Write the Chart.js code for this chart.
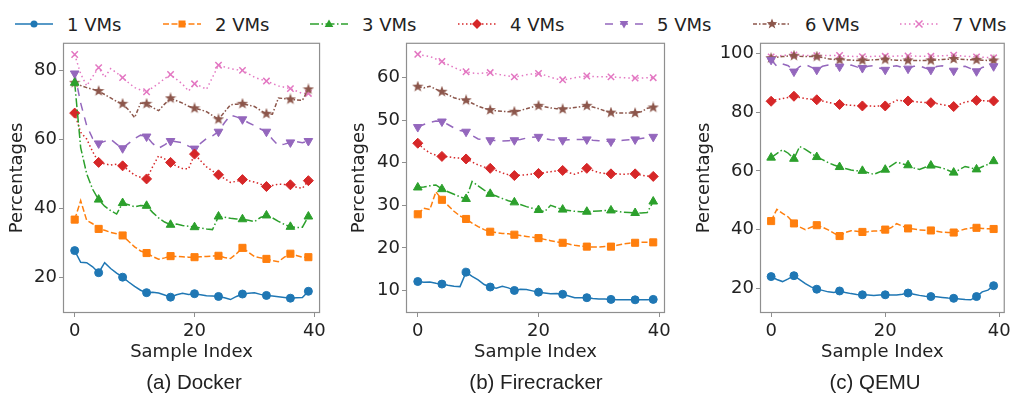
<!DOCTYPE html>
<html>
<head>
<meta charset="utf-8">
<script src="https://cdn.jsdelivr.net/npm/chart.js@4.4.0/dist/chart.umd.min.js"></script>
<style>
  body { margin:0; background:#fff; width:1015px; height:399px; overflow:hidden; position:relative; font-family:"DejaVu Sans", sans-serif; color:#222; }
  .panel { position:absolute; top:30px; height:369px; }
  .caption { position:absolute; top:370px; font-family:"Liberation Sans", Arial, sans-serif; font-size:20.5px; color:#222; transform:translateX(-50%); white-space:nowrap; }
  .item { position:absolute; top:12px; height:24px; display:flex; align-items:center; font-size:18px; white-space:nowrap; }
  .item svg { margin-right:14px; }
</style>
</head>
<body>
<div id="legend"></div>
<div class="panel" id="wrap-docker" style="left:0;width:330px"><canvas id="chart-docker"></canvas></div>
<div class="panel" id="wrap-fc" style="left:340px;width:335px"><canvas id="chart-fc"></canvas></div>
<div class="panel" id="wrap-qemu" style="left:685px;width:330px"><canvas id="chart-qemu"></canvas></div>
<div class="caption" style="left:194px">(a) Docker</div>
<div class="caption" style="left:536px">(b) Firecracker</div>
<div class="caption" style="left:875px">(c) QEMU</div>

<script>
/* Percentages per sample, 1..7 concurrent VMs */
const sampleIndex = [0,1,2,3,4,5,6,7,8,9,10,11,12,13,14,15,16,17,18,19,20,21,22,23,24,25,26,27,28,29,30,31,32,33,34,35,36,37,38,39];
const seriesNames = ['1 VMs','2 VMs','3 VMs','4 VMs','5 VMs','6 VMs','7 VMs'];
const xTicks = [0, 20, 40];

// (a) Docker
const dockerVm1 = [27.7,24.3,24.2,23.0,21.3,24.2,22.5,21.2,20.0,18.6,17.3,16.2,15.5,15.6,15.4,14.8,14.2,14.9,15.3,15.0,15.2,14.9,14.6,14.5,14.4,14.0,13.5,14.4,15.1,15.3,15.5,15.0,14.7,14.5,14.3,14.1,13.9,14.0,14.1,15.9];
const dockerVm2 = [36.7,42.2,36.5,35.5,34.0,33.6,33.0,32.6,32.1,30.4,28.8,27.6,27.0,26.0,25.2,25.6,26.1,26.0,25.9,25.8,25.8,25.9,26.0,26.1,26.2,25.7,25.4,26.8,28.5,27.2,26.0,25.6,25.3,24.8,24.5,25.8,26.8,26.3,25.8,25.8];
const dockerVm3 = [76.4,57.6,50.0,45.5,42.5,40.6,39.3,38.3,41.5,41.0,40.4,40.8,40.7,38.8,37.2,36.0,35.2,35.4,35.0,34.8,34.5,34.3,34.0,33.8,37.6,37.4,37.1,36.9,36.8,36.5,36.1,37.3,37.9,37.2,36.2,35.3,34.6,34.4,34.5,37.6];
const dockerVm4 = [67.6,62.0,60.1,56.4,53.3,52.9,52.5,52.8,52.3,51.0,49.6,49.0,48.5,52.0,55.2,54.3,53.3,52.2,51.5,51.4,55.7,53.8,52.0,50.8,49.7,48.6,47.5,47.8,48.3,48.0,47.6,47.0,46.3,46.6,47.0,46.9,46.8,46.1,45.8,48.0];
const dockerVm5 = [79.1,70.5,64.0,60.2,58.8,59.4,60.0,58.6,57.4,58.8,60.2,61.2,60.8,58.8,57.4,58.4,59.5,59.3,59.0,58.0,57.3,58.8,60.2,61.0,62.2,64.8,67.0,66.5,65.8,64.8,64.0,63.0,62.2,60.0,58.2,58.6,59.1,59.3,59.0,59.5];
const dockerVm6 = [76.4,75.6,75.0,74.5,74.0,73.0,72.0,71.0,70.3,68.5,66.3,70.5,70.3,69.2,68.3,70.2,71.9,71.2,70.5,69.6,69.0,68.6,68.0,66.9,65.8,67.9,70.0,70.2,70.3,69.9,69.5,68.4,67.4,67.3,72.0,71.8,71.6,71.4,71.3,74.5];
const dockerVm7 = [84.6,79.0,75.5,78.2,80.8,78.0,80.5,79.3,77.9,76.4,75.0,74.3,73.8,75.0,76.2,77.6,78.8,77.4,76.0,74.0,76.1,75.4,74.5,78.0,81.5,81.0,80.5,80.2,80.0,79.0,78.0,77.4,76.9,76.2,75.5,75.1,74.7,74.0,73.3,73.3];
const dockerTicks = [20, 40, 60, 80];

// (b) Firecracker
const fcVm1 = [12.1,11.9,12.0,11.7,11.5,11.2,11.0,10.9,14.3,13.3,12.5,11.4,10.8,10.5,11.0,10.6,10.0,10.3,10.2,9.9,9.6,9.4,9.2,9.3,9.1,8.7,8.3,8.3,8.3,8.1,8.0,8.0,7.9,7.8,7.8,7.8,7.8,7.8,7.8,7.9];
const fcVm2 = [27.9,29.3,29.0,33.2,31.3,30.0,28.6,27.5,26.8,25.8,25.0,24.3,23.8,23.6,23.4,23.3,23.1,22.9,22.7,22.5,22.3,22.0,21.7,21.4,21.2,20.9,20.6,20.4,20.3,20.2,20.2,20.3,20.3,20.6,20.9,21.1,21.2,21.3,21.3,21.3];
const fcVm3 = [34.2,34.3,34.6,34.8,33.8,33.2,32.6,32.0,31.5,35.6,34.6,33.6,32.7,32.2,31.6,31.1,30.7,30.2,29.7,29.3,28.9,28.5,30.0,29.5,29.0,28.8,28.6,28.5,28.5,28.6,28.7,28.8,28.8,28.6,28.4,28.3,28.2,28.2,28.3,30.9];
const fcVm4 = [44.6,43.3,42.3,41.8,41.5,41.4,41.2,41.1,40.9,40.2,39.5,39.0,38.7,38.2,37.6,37.2,37.0,37.1,37.2,37.4,37.5,37.7,37.9,38.1,38.2,37.7,37.3,37.8,38.7,38.2,37.7,37.5,37.4,37.4,37.3,37.4,37.4,37.1,36.9,36.8];
const fcVm5 = [48.4,49.0,49.5,49.8,49.7,49.0,48.2,47.6,47.3,46.4,45.6,45.4,45.3,45.2,45.1,45.2,45.3,45.5,45.8,46.0,46.1,45.7,45.4,45.3,45.3,45.4,45.5,45.5,45.5,45.3,45.2,45.1,45.0,45.1,45.3,45.4,45.5,45.7,45.9,46.1];
const fcVm6 = [57.9,57.6,58.0,57.3,56.7,56.0,55.3,54.9,54.7,54.0,53.3,52.8,52.4,52.2,52.1,52.0,52.0,52.3,52.7,53.1,53.4,53.2,52.9,52.7,52.6,52.8,53.0,53.2,53.4,53.1,52.7,52.2,51.8,51.7,51.7,51.7,51.7,52.0,52.8,53.0];
const fcVm7 = [65.5,65.2,65.0,64.4,63.8,63.1,62.4,61.8,61.4,61.1,61.0,61.1,61.2,60.9,60.6,60.4,60.2,60.4,60.7,60.9,61.0,60.6,60.1,59.7,59.5,59.7,60.0,60.2,60.4,60.3,60.2,60.2,60.2,60.1,60.0,59.9,59.9,59.9,60.0,60.0];
const fcTicks = [10, 20, 30, 40, 50, 60];

// (c) QEMU
const qemuVm1 = [24.0,23.0,22.3,23.2,24.3,23.0,21.6,20.5,19.7,19.3,18.8,18.6,19.1,18.6,18.2,17.9,17.8,17.7,17.6,17.7,17.8,17.7,17.7,18.0,18.4,18.0,17.6,17.3,17.2,17.1,16.9,16.7,16.6,16.4,16.2,16.1,17.2,18.8,19.4,20.9];
const qemuVm2 = [42.9,46.9,45.5,44.3,42.1,40.9,40.0,40.8,41.5,40.8,39.9,38.8,37.8,39.0,39.6,39.4,39.2,39.3,39.5,39.6,40.0,40.6,42.0,41.2,40.4,40.2,39.9,39.8,39.7,39.4,39.1,39.0,39.0,39.6,40.2,40.5,40.6,40.4,40.3,40.2];
const qemuVm3 = [64.5,65.9,67.2,66.0,64.1,68.3,67.3,66.0,64.7,63.8,62.8,62.0,61.3,60.8,60.3,60.0,60.0,59.4,58.8,59.6,60.4,61.7,63.0,62.4,61.9,61.0,60.5,61.2,61.8,61.4,61.0,60.2,59.4,60.4,61.5,61.0,60.5,61.4,62.2,63.3];
const qemuVm4 = [83.7,84.3,84.6,85.0,85.4,85.0,84.6,84.4,84.2,83.8,83.3,82.9,82.6,82.5,82.3,82.2,82.1,82.1,82.0,82.1,82.1,83.0,84.0,83.9,83.8,83.6,83.4,83.3,83.2,82.9,82.5,82.2,81.9,82.6,83.4,83.8,84.0,83.9,83.8,83.8];
const qemuVm5 = [97.8,95.6,96.4,95.8,93.8,95.5,96.2,95.3,94.4,95.6,96.0,95.8,95.5,95.9,96.0,95.4,95.0,95.6,95.8,95.0,94.4,95.5,95.8,95.2,94.8,95.6,95.8,95.0,94.4,95.5,95.8,94.9,94.1,95.3,95.6,94.8,93.9,95.2,95.8,95.6];
const qemuVm6 = [98.4,98.7,98.9,99.1,99.2,99.0,98.9,98.9,98.9,98.6,98.2,97.9,97.8,97.8,97.7,97.6,97.6,97.7,97.8,97.9,97.9,97.8,97.7,97.6,97.6,97.6,97.6,97.6,97.6,97.8,97.9,98.0,98.1,98.0,97.9,97.8,97.8,97.7,97.6,97.6];
const qemuVm7 = [98.8,99.1,99.3,99.4,99.5,99.4,99.3,99.2,99.2,99.2,99.3,99.3,99.3,99.1,99.0,98.9,98.9,98.9,99.0,99.0,99.0,99.0,99.1,99.1,99.1,99.1,99.0,99.0,99.0,99.1,99.2,99.3,99.4,99.2,99.0,98.9,98.8,98.7,98.6,98.5];
const qemuTicks = [20, 40, 60, 80, 100];

// styling (tab10 colours, matplotlib-ish dashes)
const colors = ['#1f77b4','#ff7f0e','#2ca02c','#d62728','#9467bd','#8c564b','#e377c2'];
const dashes = [[], [6,2.5], [9,2.5,1.5,2.5], [1.5,2.5], [8,7], [4,2,1.5,2], [1.5,3]];
const ink = '#222';
const spine = '#8f8f8f';
const FONT = '"DejaVu Sans", sans-serif';

function starImage(color, size) {
  const c = document.createElement('canvas');
  c.width = c.height = size;
  const g = c.getContext('2d');
  g.fillStyle = color;
  g.beginPath();
  for (let k = 0; k < 10; k++) {
    const rr = k % 2 ? size * 0.2 : size / 2;
    const a = -Math.PI / 2 + k * Math.PI / 5;
    g.lineTo(size / 2 + rr * Math.cos(a), size / 2 + rr * Math.sin(a));
  }
  g.closePath();
  g.fill();
  return c;
}

const markers = [
  {style:'circle', r:4},
  {style:'rect', r:5},
  {style:'triangle', r:5},
  {style:'rectRot', r:5},
  {style:'triangle', r:5, rot:180},
  {style:starImage(colors[5], 12), r:5},
  {style:'crossRot', r:4.5}
];
const showMark = i => i % 4 === 0 || i === sampleIndex.length - 1;

const frame = {
  id: 'frame',
  afterDatasetsDraw(chart) {
    const { ctx, chartArea: a } = chart;
    ctx.save();
    ctx.strokeStyle = spine;
    ctx.lineWidth = 1.2;
    ctx.strokeRect(a.left + 0.5, a.top + 0.5, a.right - a.left - 1, a.bottom - a.top - 1);
    ctx.restore();
  }
};

function makePanel(canvasId, series, yMin, yMax, yTicks, axisWidth, titlePad, padRight) {
  return new Chart(document.getElementById(canvasId), {
    type: 'line',
    data: {
      labels: sampleIndex,
      datasets: series.map((d, k) => ({
        label: seriesNames[k],
        data: d,
        borderColor: colors[k],
        backgroundColor: colors[k],
        borderWidth: 1.5,
        borderDash: dashes[k],
        tension: 0,
        pointStyle: markers[k].style,
        pointRotation: markers[k].rot || 0,
        pointRadius: ctx => showMark(ctx.dataIndex) ? markers[k].r : 0,
        pointHoverRadius: 0,
        pointBackgroundColor: colors[k],
        pointBorderColor: colors[k],
        pointBorderWidth: k === 6 ? 1.5 : 1
      }))
    },
    options: {
      responsive: true, maintainAspectRatio: false, animation: false,
      layout: { padding: { top: 12, right: padRight, bottom: 36, left: 0 } },
      plugins: { legend: { display: false }, tooltip: { enabled: false } },
      scales: {
        x: {
          type: 'linear', min: -1.95, max: 40.95,
          afterBuildTicks: s => { s.ticks = xTicks.map(v => ({ value: v })); },
          afterFit: s => { s.height = 50; },
          grid: { drawOnChartArea: false, drawTicks: true, tickLength: 4, color: spine },
          border: { display: false },
          ticks: { color: ink, font: { family: FONT, size: 18 }, padding: 4, maxRotation: 0 },
          title: { display: true, text: 'Sample Index', color: ink, font: { family: FONT, size: 18 }, padding: { top: 0, bottom: 0 } }
        },
        y: {
          min: yMin, max: yMax,
          afterBuildTicks: s => { s.ticks = yTicks.map(v => ({ value: v })); },
          afterFit: s => { s.width = axisWidth; },
          grid: { drawOnChartArea: false, drawTicks: true, tickLength: 4, color: spine },
          border: { display: false },
          ticks: { color: ink, font: { family: FONT, size: 18 }, padding: 2 },
          title: { display: true, text: 'Percentages', color: ink, font: { family: FONT, size: 18 }, padding: { top: titlePad, bottom: 0 } }
        }
      }
    },
    plugins: [frame]
  });
}

makePanel('chart-docker', [dockerVm1,dockerVm2,dockerVm3,dockerVm4,dockerVm5,dockerVm6,dockerVm7], 9.6, 88, dockerTicks, 63, 7, 8);
makePanel('chart-fc', [fcVm1,fcVm2,fcVm3,fcVm4,fcVm5,fcVm6,fcVm7], 4.7, 68.2, fcTicks, 66, 9, 10);
makePanel('chart-qemu', [qemuVm1,qemuVm2,qemuVm3,qemuVm4,qemuVm5,qemuVm6,qemuVm7], 11.6, 103.6, qemuTicks, 75, 9, 10);

// shared legend across the top
const legendX = [15, 163, 310, 458, 605, 753, 900];
function markerSvg(k) {
  const c = colors[k];
  switch (k) {
    case 0: return `<circle cx="19" cy="8" r="3.5" fill="${c}"/>`;
    case 1: return `<rect x="15.5" y="4.5" width="7" height="7" fill="${c}"/>`;
    case 2: return `<polygon points="19,3.5 23.3,11 14.7,11" fill="${c}"/>`;
    case 3: return `<polygon points="19,3 24,8 19,13 14,8" fill="${c}"/>`;
    case 4: return `<polygon points="19,12.5 23.3,5 14.7,5" fill="${c}"/>`;
    case 5: return `<polygon points="19,2.5 20.4,6.1 24.2,6.3 21.2,8.7 22.3,12.4 19,10.3 15.7,12.4 16.8,8.7 13.8,6.3 17.6,6.1" fill="${c}"/>`;
    default: return `<path d="M15.5 4.5 L22.5 11.5 M22.5 4.5 L15.5 11.5" stroke="${c}" stroke-width="1.5"/>`;
  }
}
document.getElementById('legend').innerHTML = seriesNames.map((n, k) => `
  <div class="item" style="left:${legendX[k]}px">
    <svg width="38" height="16"><line x1="0" y1="8" x2="38" y2="8" stroke="${colors[k]}" stroke-width="1.5" stroke-dasharray="${dashes[k].join(' ') || 'none'}"/>${markerSvg(k)}</svg>
    <span>${n}</span>
  </div>`).join('');
</script>
</body>
</html>
